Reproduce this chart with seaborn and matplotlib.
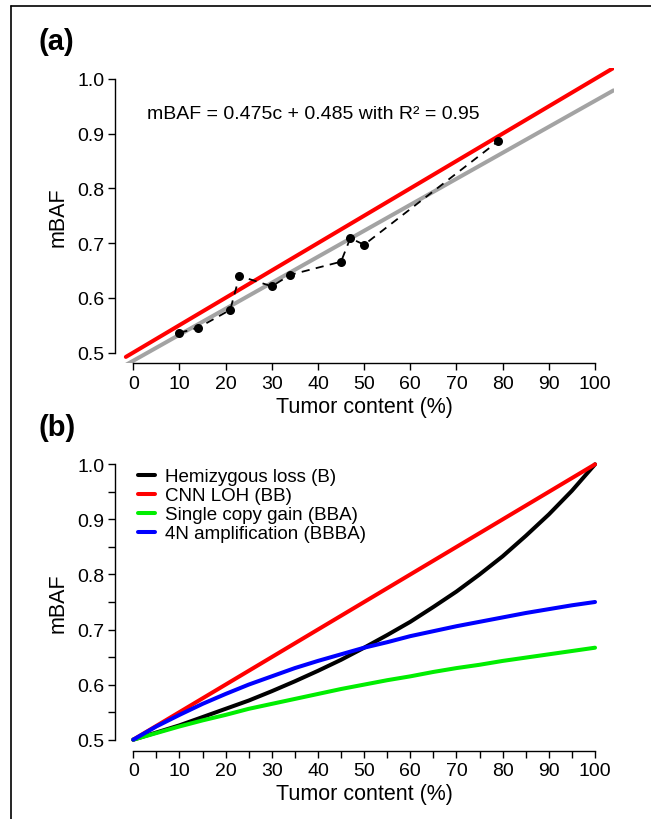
import matplotlib
matplotlib.use("Agg")
import matplotlib.pyplot as plt
from matplotlib.lines import Line2D
from matplotlib.ticker import MultipleLocator
import seaborn as sns
import pandas as pd

# ---------------- data ----------------
# Panel (a): observed mBAF vs tumor content
tumor_pct = [10, 14, 21, 23, 30, 34, 45, 47, 50, 79]
mbaf_obs = [0.536, 0.545, 0.578, 0.640, 0.621, 0.642, 0.666, 0.709, 0.697, 0.886]
# reference lines (intercept, slope per % tumor) and the x range they span
loh_intercept, loh_slope = 0.5, 0.005
fit_intercept, fit_slope = 0.485, 0.00475
line_x_range = [-1.6, 104]
fit_text = "mBAF = 0.475c + 0.485 with R\u00b2 = 0.95"

# Panel (b): expected mBAF curves
content = [0, 5, 10, 15, 20, 25, 30, 35, 40, 45, 50,
           55, 60, 65, 70, 75, 80, 85, 90, 95, 100]
hemizygous = [0.500, 0.513, 0.526, 0.541, 0.556, 0.571, 0.588, 0.606, 0.625, 0.645, 0.667,
              0.690, 0.714, 0.741, 0.769, 0.800, 0.833, 0.870, 0.909, 0.952, 1.000]
cnn_loh = [0.500, 0.525, 0.550, 0.575, 0.600, 0.625, 0.650, 0.675, 0.700, 0.725, 0.750,
           0.775, 0.800, 0.825, 0.850, 0.875, 0.900, 0.925, 0.950, 0.975, 1.000]
single_gain = [0.500, 0.512, 0.524, 0.535, 0.545, 0.556, 0.565, 0.574, 0.583, 0.592, 0.600,
               0.608, 0.615, 0.623, 0.630, 0.636, 0.643, 0.649, 0.655, 0.661, 0.667]
amp_4n = [0.500, 0.524, 0.545, 0.565, 0.583, 0.600, 0.615, 0.630, 0.643, 0.655, 0.667,
          0.677, 0.688, 0.697, 0.706, 0.714, 0.722, 0.730, 0.737, 0.744, 0.750]
series_names = ["Hemizygous loss (B)", "CNN LOH (BB)",
                "Single copy gain (BBA)", "4N amplification (BBBA)"]
series_colors = ["#000000", "#ff0000", "#00ee00", "#0000ff"]

x_ticks = [0, 10, 20, 30, 40, 50, 60, 70, 80, 90, 100]
y_ticks = [0.5, 0.6, 0.7, 0.8, 0.9, 1.0]

# ---------------- style ----------------
sns.set_theme(style="ticks")
plt.rcParams["font.family"] = ["Liberation Sans", "DejaVu Sans"]
plt.rcParams.update({
    "text.color": "black",
    "axes.labelcolor": "black",
    "axes.edgecolor": "black",
    "xtick.color": "black",
    "ytick.color": "black",
    "xtick.labelcolor": "black",
    "ytick.labelcolor": "black",
    "axes.linewidth": 1.0,
    "xtick.major.width": 1.0,
    "ytick.major.width": 1.0,
    "xtick.minor.width": 1.0,
    "ytick.minor.width": 1.0,
    "xtick.major.size": 5,
    "ytick.major.size": 5,
    "xtick.minor.size": 5,
    "ytick.minor.size": 5,
    "xtick.major.pad": 3,
    "ytick.major.pad": 2.5,
})

fig = plt.figure(figsize=(6.51, 8.20), dpi=100)
ax_a = fig.add_axes([0.1763, 0.5555, 0.7661, 0.3604])
ax_b = fig.add_axes([0.1763, 0.0833, 0.7661, 0.3627])

TICK_FS = 14
LABEL_FS = 15.5


def style_axes(ax, minor):
    ax.set_xlim(-4, 104)
    ax.set_ylim(0.48, 1.02)
    ax.set_xticks(x_ticks)
    ax.set_yticks(y_ticks)
    ax.set_xticklabels([str(t) for t in x_ticks], fontsize=TICK_FS)
    ax.set_yticklabels([f"{t:.1f}" for t in y_ticks], fontsize=TICK_FS)
    if minor:
        ax.xaxis.set_minor_locator(MultipleLocator(5))
        ax.yaxis.set_minor_locator(MultipleLocator(0.05))
    for s in ["top", "right"]:
        ax.spines[s].set_visible(False)
    ax.spines["left"].set_bounds(0.5, 1.0)
    ax.spines["bottom"].set_bounds(0, 100)
    ax.set_xlabel("Tumor content (%)", fontsize=LABEL_FS)
    ax.set_ylabel("mBAF", fontsize=LABEL_FS)
    h = ax.get_position().height * 820
    ax.xaxis.set_label_coords(0.5, -43 / h)
    ax.xaxis.label.set_va("center")
    ax.yaxis.set_label_coords(-56.8 / 498.7, 0.5)
    ax.yaxis.label.set_va("center")


# ---------------- panel (a) ----------------
df_lines = pd.DataFrame({
    "x": line_x_range * 2,
    "y": [loh_intercept + loh_slope * x for x in line_x_range]
         + [fit_intercept + fit_slope * x for x in line_x_range],
    "line": ["loh", "loh", "fit", "fit"],
})
sns.lineplot(data=df_lines, x="x", y="y", hue="line", hue_order=["loh", "fit"],
             palette=["#ff0000", "#a3a3a3"], lw=2.9, ax=ax_a, legend=False,
             solid_capstyle="round", zorder=2, sort=False)
df_a = pd.DataFrame({"tumor": tumor_pct, "mbaf": mbaf_obs})
sns.lineplot(data=df_a, x="tumor", y="mbaf", ax=ax_a, color="black",
             linestyle=(0, (4.5, 3.5)), lw=1.3, marker="o", markersize=6.5,
             markeredgewidth=0, zorder=3, sort=False)
ax_a.text(2.9, 0.936, fit_text, fontsize=14, ha="left", va="center")
style_axes(ax_a, minor=False)

# ---------------- panel (b) ----------------
df_b = pd.DataFrame({
    "content": content * 4,
    "mbaf": hemizygous + cnn_loh + single_gain + amp_4n,
    "type": sum([[n] * len(content) for n in series_names], []),
})
sns.lineplot(data=df_b, x="content", y="mbaf", hue="type", hue_order=series_names,
             palette=series_colors, ax=ax_b, lw=2.9, legend=False)
style_axes(ax_b, minor=True)
handles = [Line2D([0], [0], color=c, lw=2.9) for c in series_colors]
ax_b.legend(handles, series_names, loc="upper left", bbox_to_anchor=(0.0465, 0.95),
            frameon=False, fontsize=13.5, handlelength=0.9, handletextpad=0.53,
            labelspacing=0.1, borderpad=0, borderaxespad=0)

# ---------------- panel letters and border ----------------
fig.text(38 / 651, 1 - 42.5 / 820, "(a)", fontsize=21, fontweight="bold",
         ha="left", va="center")
fig.text(38 / 651, 1 - 428 / 820, "(b)", fontsize=21, fontweight="bold",
         ha="left", va="center")
fig.add_artist(Line2D([11 / 651, 1.0], [1 - 7 / 820, 1 - 7 / 820],
                      transform=fig.transFigure, color="black", lw=1.2))
fig.add_artist(Line2D([11 / 651, 11 / 651], [0.0, 1 - 7 / 820],
                      transform=fig.transFigure, color="black", lw=1.2))

fig.savefig("out.png", dpi=100)
